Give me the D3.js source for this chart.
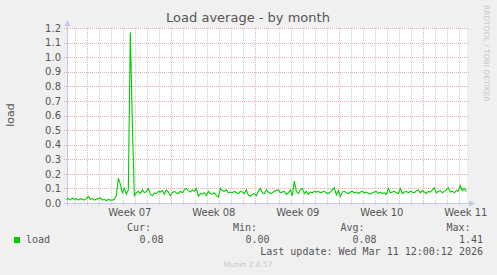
<!DOCTYPE html>
<html>
<head>
<meta charset="utf-8">
<script src="https://cdn.jsdelivr.net/npm/d3@7"></script>
<style>
  body { margin: 0; background: #f0f0f0; }
  svg { display: block; }
</style>
</head>
<body>
<div id="chart"></div>
<script>
// Munin "load" plugin, month view: one sample every 4 hours from Feb 6 06:00 UTC
const sampleStart = Date.UTC(2026, 1, 6, 6);
const sampleHours = 4;

const loadValues = [
  0.025, 0.03, 0.02, 0.035, 0.025, 0.03, 0.02, 0.03, 0.025, 0.02,
  0.03, 0.045, 0.025, 0.03, 0.02, 0.025, 0.03, 0.035, 0.02, 0.025,
  0.015, 0.025, 0.02, 0.02, 0.025, 0.05, 0.17, 0.13, 0.07, 0.1,
  0.06, 0.09, 1.17, 0.55, 0.05, 0.07, 0.08, 0.065, 0.09, 0.07,
  0.08, 0.1, 0.06, 0.05, 0.07, 0.065, 0.08, 0.075, 0.085, 0.06,
  0.09, 0.075, 0.05, 0.07, 0.08, 0.07, 0.065, 0.08, 0.07, 0.09,
  0.1, 0.085, 0.075, 0.09, 0.08, 0.1, 0.045, 0.065, 0.06, 0.07,
  0.05, 0.08, 0.065, 0.06, 0.07, 0.05, 0.04, 0.1, 0.085, 0.08,
  0.09, 0.07, 0.075, 0.07, 0.08, 0.07, 0.065, 0.08, 0.075, 0.065,
  0.09, 0.055, 0.045, 0.06, 0.065, 0.05, 0.08, 0.1, 0.07, 0.065,
  0.09, 0.075, 0.065, 0.07, 0.08, 0.085, 0.09, 0.07, 0.075, 0.08,
  0.06, 0.07, 0.09, 0.05, 0.15, 0.08, 0.065, 0.09, 0.1, 0.065,
  0.08, 0.06, 0.075, 0.07, 0.08, 0.075, 0.08, 0.07, 0.075, 0.08,
  0.07, 0.065, 0.075, 0.09, 0.105, 0.055, 0.085, 0.045, 0.075, 0.08,
  0.07, 0.065, 0.075, 0.08, 0.07, 0.075, 0.065, 0.075, 0.08, 0.07,
  0.075, 0.065, 0.06, 0.07, 0.075, 0.08, 0.065, 0.075, 0.065, 0.07,
  0.06, 0.1, 0.07, 0.075, 0.08, 0.07, 0.065, 0.1, 0.065, 0.075,
  0.08, 0.07, 0.08, 0.075, 0.07, 0.085, 0.09, 0.07, 0.085, 0.075,
  0.065, 0.08, 0.075, 0.09, 0.105, 0.07, 0.08, 0.085, 0.07, 0.08,
  0.09, 0.105, 0.075, 0.08, 0.07, 0.085, 0.08, 0.12, 0.085, 0.1,
  0.08,
];

const yTicks = [0, 0.1, 0.2, 0.3, 0.4, 0.5, 0.6, 0.7, 0.8, 0.9, 1.0, 1.1, 1.2];
const weekLabelTimes = ['2026-02-11T12:00Z', '2026-02-18T12:00Z', '2026-02-25T12:00Z', '2026-03-04T12:00Z', '2026-03-11T12:00Z'];
const weekStarts = ['2026-02-08T00:00Z', '2026-02-15T00:00Z', '2026-02-22T00:00Z', '2026-03-01T00:00Z', '2026-03-08T00:00Z'];

const legendHeaders = ['Cur:', 'Min:', 'Avg:', 'Max:'];
const legendValues = ['0.08', '0.00', '0.08', '1.41'];

const W = 497, H = 275;
const plot = { left: 67, right: 467, top: 28, bottom: 203 };
const textColor = '#555';

const svg = d3.select('#chart').append('svg').attr('width', W).attr('height', H);
svg.append('rect').attr('width', W).attr('height', H).attr('fill', '#f0f0f0');
svg.append('rect')
  .attr('x', plot.left).attr('y', plot.top)
  .attr('width', plot.right - plot.left).attr('height', plot.bottom - plot.top)
  .attr('fill', '#fff');

const x = d3.scaleUtc()
  .domain([new Date(Date.UTC(2026, 1, 6, 7, 20)), new Date(Date.UTC(2026, 2, 11, 15, 20))])
  .range([plot.left, plot.right]);
const y = d3.scaleLinear().domain([0, 1.2]).range([plot.bottom, plot.top]);

const majors = weekStarts.map((s) => +new Date(s));
const days = d3.utcDay.range(x.domain()[0], x.domain()[1]).filter((d) => !majors.includes(+d));

// minor grid: every day
svg.append('g').selectAll('line').data(days).join('line')
  .attr('x1', (d) => Math.round(x(d)) + 0.5).attr('x2', (d) => Math.round(x(d)) + 0.5)
  .attr('y1', plot.top).attr('y2', plot.bottom + 3)
  .attr('stroke', '#cccccc').attr('stroke-dasharray', '1,1');

// major grid: horizontal + week starts
const majorColor = '#e9adad';
svg.append('g').selectAll('line').data(yTicks.slice(1)).join('line')
  .attr('x1', plot.left - 3).attr('x2', plot.right + 2)
  .attr('y1', (d) => Math.round(y(d)) + 0.5).attr('y2', (d) => Math.round(y(d)) + 0.5)
  .attr('stroke', majorColor).attr('stroke-dasharray', '1,1');
svg.append('g').selectAll('line').data(majors).join('line')
  .attr('x1', (d) => Math.round(x(d)) + 0.5).attr('x2', (d) => Math.round(x(d)) + 0.5)
  .attr('y1', plot.top).attr('y2', plot.bottom + 3)
  .attr('stroke', majorColor).attr('stroke-dasharray', '1,1');

// axes
const axisColor = '#c4c8f4';
svg.append('line')
  .attr('x1', plot.left + 0.5).attr('x2', plot.left + 0.5)
  .attr('y1', plot.bottom + 3).attr('y2', plot.top - 4)
  .attr('stroke', axisColor);
svg.append('path').attr('d', `M${plot.left - 2.5},${plot.top - 2}L${plot.left + 3.5},${plot.top - 2}L${plot.left + 0.5},${plot.top - 8}Z`)
  .attr('fill', axisColor);
svg.append('line')
  .attr('x1', plot.left - 3).attr('x2', plot.right + 3)
  .attr('y1', plot.bottom + 0.5).attr('y2', plot.bottom + 0.5)
  .attr('stroke', axisColor);
svg.append('path').attr('d', `M${plot.right + 2},${plot.bottom - 2.5}L${plot.right + 2},${plot.bottom + 3.5}L${plot.right + 8},${plot.bottom + 0.5}Z`)
  .attr('fill', axisColor);

// y labels
svg.append('g')
  .attr('transform', `translate(${plot.left},0)`)
  .call(d3.axisLeft(y).tickValues(yTicks).tickFormat(d3.format('.1f')).tickSize(0).tickPadding(6))
  .call((g) => g.select('.domain').remove())
  .selectAll('text')
  .attr('fill', textColor)
  .style('font-family', 'DejaVu Sans')
  .style('font-size', '10px');

// x labels
svg.append('g')
  .attr('transform', `translate(0,${plot.bottom})`)
  .call(d3.axisBottom(x).tickValues(weekLabelTimes.map((s) => new Date(s)))
    .tickFormat(d3.utcFormat('Week %V')).tickSize(0).tickPadding(6))
  .call((g) => g.select('.domain').remove())
  .selectAll('text')
  .attr('fill', textColor)
  .style('font-family', 'DejaVu Sans')
  .style('font-size', '10px');

// the load line
const series = loadValues.map((v, i) => ({ t: new Date(sampleStart + i * sampleHours * 3600e3), v }));
svg.append('path')
  .datum(series)
  .attr('fill', 'none')
  .attr('stroke', '#00cc00')
  .attr('stroke-width', 1.1)
  .attr('d', d3.line().x((d) => x(d.t)).y((d) => y(d.v)));

// title and side labels
svg.append('text')
  .attr('x', 248).attr('y', 22)
  .attr('text-anchor', 'middle')
  .attr('fill', textColor)
  .style('font-family', 'DejaVu Sans').style('font-size', '13px')
  .text('Load average - by month');

svg.append('text')
  .attr('transform', 'translate(14,115) rotate(-90)')
  .attr('text-anchor', 'middle')
  .attr('fill', textColor)
  .style('font-family', 'DejaVu Sans').style('font-size', '11px')
  .text('load');

svg.append('text')
  .attr('transform', 'translate(484,5) rotate(90)')
  .attr('fill', '#c8c8c8')
  .style('font-family', 'DejaVu Sans').style('font-size', '7.5px')
  .text('RRDTOOL / TOBI OETIKER');

// legend
const mono = (sel) => sel.attr('fill', textColor).style('font-family', 'DejaVu Sans Mono').style('font-size', '10px');
const headerX = [127, 233, 340.5, 446.5];
const valueX = [163.5, 269.5, 376.5, 483];

svg.append('rect').attr('x', 14).attr('y', 237).attr('width', 6).attr('height', 6).attr('fill', '#00cc00');
svg.append('text').attr('x', 26).attr('y', 243).call(mono).text('load');

svg.append('g').selectAll('text').data(legendHeaders).join('text')
  .attr('x', (d, i) => headerX[i]).attr('y', 231).call(mono).text((d) => d);
svg.append('g').selectAll('text').data(legendValues).join('text')
  .attr('x', (d, i) => valueX[i]).attr('y', 243).attr('text-anchor', 'end').call(mono).text((d) => d);

svg.append('text').attr('x', 483).attr('y', 255).attr('text-anchor', 'end').call(mono)
  .text('Last update: Wed Mar 11 12:00:12 2026');

svg.append('text')
  .attr('x', 248).attr('y', 267)
  .attr('text-anchor', 'middle')
  .attr('fill', '#c8c8c8')
  .style('font-family', 'DejaVu Sans').style('font-size', '7.5px')
  .text('Munin 2.0.57');
</script>
</body>
</html>
